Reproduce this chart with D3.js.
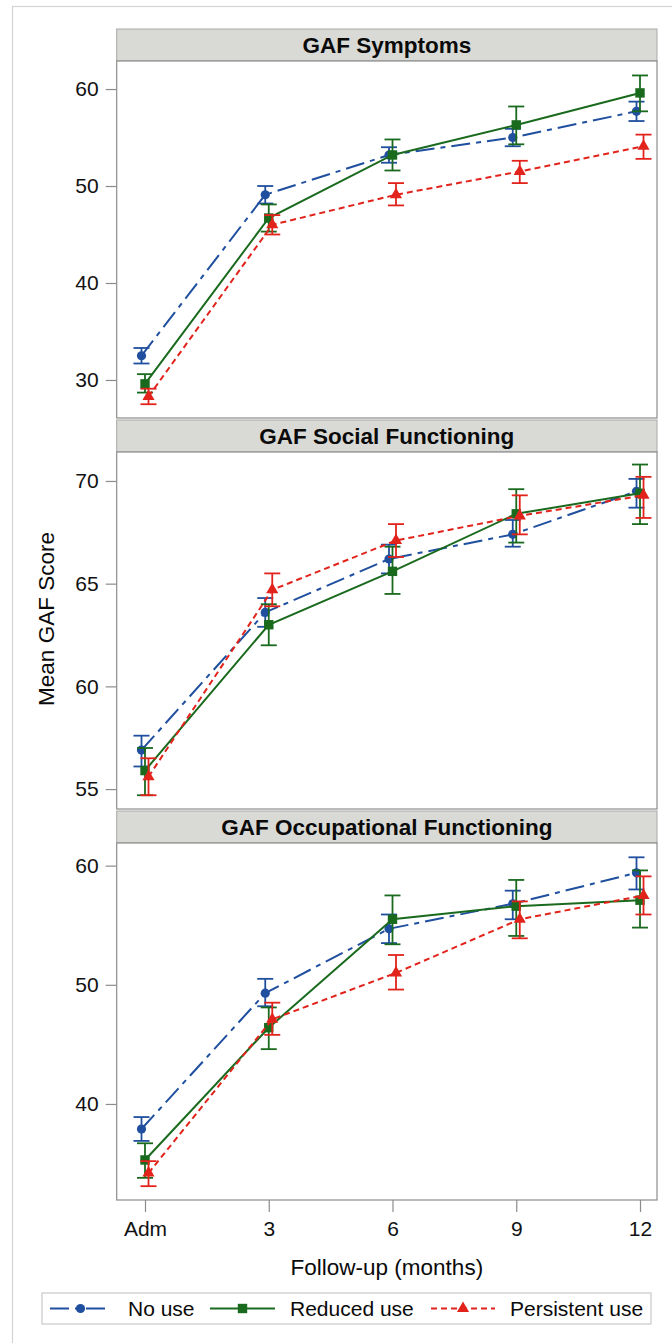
<!DOCTYPE html>
<html>
<head>
<meta charset="utf-8">
<script src="https://cdn.jsdelivr.net/npm/d3@7"></script>
<style>
  body { margin: 0; background: #fff; }
  svg { display: block; }
  text { font-family: "Liberation Sans", Arial, Helvetica, sans-serif; }
</style>
</head>
<body>
<svg id="chart" width="672" height="1343"></svg>
<script>
// Follow-up time points (months) and their axis labels
const months = [0, 3, 6, 9, 12];
const monthLabels = ["Adm", "3", "6", "9", "12"];
const groups = ["No use", "Reduced use", "Persistent use"];
const panelTitles = ["GAF Symptoms", "GAF Social Functioning", "GAF Occupational Functioning"];

// Y-axis tick values per panel
const symptomsTicks = [30, 40, 50, 60];
const socialTicks = [55, 60, 65, 70];
const occupationalTicks = [40, 50, 60];

// GAF Symptoms: means and error-bar limits
const symptomsNoUseMean = [32.5, 49.1, 53.2, 55.0, 57.7];
const symptomsNoUseLow  = [31.7, 48.2, 52.4, 54.1, 56.7];
const symptomsNoUseHigh = [33.3, 50.0, 54.0, 55.9, 58.7];
const symptomsReducedMean = [29.6, 46.7, 53.2, 56.3, 59.6];
const symptomsReducedLow  = [28.7, 45.3, 51.6, 54.3, 57.7];
const symptomsReducedHigh = [30.6, 48.1, 54.8, 58.2, 61.4];
const symptomsPersistentMean = [28.3, 46.0, 49.1, 51.5, 54.1];
const symptomsPersistentLow  = [27.5, 45.0, 48.0, 50.3, 52.8];
const symptomsPersistentHigh = [29.1, 47.0, 50.3, 52.6, 55.3];

// GAF Social Functioning
const socialNoUseMean = [56.9, 63.6, 66.2, 67.4, 69.5];
const socialNoUseLow  = [56.1, 62.9, 65.5, 66.8, 68.7];
const socialNoUseHigh = [57.6, 64.3, 66.9, 68.1, 70.1];
const socialReducedMean = [55.9, 63.0, 65.6, 68.4, 69.4];
const socialReducedLow  = [54.7, 62.0, 64.5, 67.0, 67.9];
const socialReducedHigh = [57.0, 64.0, 66.8, 69.6, 70.8];
const socialPersistentMean = [55.6, 64.7, 67.1, 68.3, 69.3];
const socialPersistentLow  = [54.7, 63.9, 66.3, 67.4, 68.2];
const socialPersistentHigh = [56.5, 65.5, 67.9, 69.3, 70.2];

// GAF Occupational Functioning
const occupationalNoUseMean = [37.9, 49.3, 54.7, 56.8, 59.4];
const occupationalNoUseLow  = [36.9, 48.2, 53.5, 55.5, 58.0];
const occupationalNoUseHigh = [38.9, 50.5, 55.9, 57.9, 60.7];
const occupationalReducedMean = [35.3, 46.4, 55.5, 56.6, 57.1];
const occupationalReducedLow  = [33.8, 44.6, 53.4, 54.1, 54.8];
const occupationalReducedHigh = [36.7, 48.1, 57.5, 58.8, 59.6];
const occupationalPersistentMean = [34.2, 47.1, 51.0, 55.5, 57.5];
const occupationalPersistentLow  = [33.1, 45.8, 49.6, 53.9, 55.9];
const occupationalPersistentHigh = [35.2, 48.5, 52.5, 57.0, 59.1];

// ---- assemble panel tables ----
function series(mean, low, high) {
  return months.map((m, i) => ({ month: m, mean: mean[i], low: low[i], high: high[i] }));
}
const panels = [
  { title: panelTitles[0], ticks: symptomsTicks, domain: [26.08, 62.89],
    series: [series(symptomsNoUseMean, symptomsNoUseLow, symptomsNoUseHigh),
             series(symptomsReducedMean, symptomsReducedLow, symptomsReducedHigh),
             series(symptomsPersistentMean, symptomsPersistentLow, symptomsPersistentHigh)] },
  { title: panelTitles[1], ticks: socialTicks, domain: [54.03, 71.41],
    series: [series(socialNoUseMean, socialNoUseLow, socialNoUseHigh),
             series(socialReducedMean, socialReducedLow, socialReducedHigh),
             series(socialPersistentMean, socialPersistentLow, socialPersistentHigh)] },
  { title: panelTitles[2], ticks: occupationalTicks, domain: [31.94, 61.9],
    series: [series(occupationalNoUseMean, occupationalNoUseLow, occupationalNoUseHigh),
             series(occupationalReducedMean, occupationalReducedLow, occupationalReducedHigh),
             series(occupationalPersistentMean, occupationalPersistentLow, occupationalPersistentHigh)] }
];

// ---- styling per group ----
const styles = [
  { color: "#1f4f9e", dash: "19,6,5,6", shape: "circle",   dodge: -0.085 },
  { color: "#1a6a1e", dash: null,       shape: "square",   dodge: 0 },
  { color: "#e2231c", dash: "6,4",      shape: "triangle", dodge: 0.085 }
];

// ---- layout ----
const plotLeft = 116.7, plotRight = 657;
const firstTop = 29, headerH = 32, plotH = 357, panelStep = 391;

const svg = d3.select("#chart");
svg.append("rect").attr("width", 672).attr("height", 1343).attr("fill", "#fff");
// outer frame of the graphic
svg.append("rect").attr("x", 12.5).attr("y", 6.5).attr("width", 720).attr("height", 1400)
  .attr("fill", "none").attr("stroke", "#d4d4d4").attr("stroke-width", 1.2);

const x = d3.scaleLinear().domain([-0.686, 12.412]).range([plotLeft, plotRight]);

function drawMarker(g, shape, color, cx, cy) {
  if (shape === "circle") {
    g.append("circle").attr("cx", cx).attr("cy", cy).attr("r", 4.6).attr("fill", color);
  } else if (shape === "square") {
    g.append("rect").attr("x", cx - 4.7).attr("y", cy - 4.7).attr("width", 9.4).attr("height", 9.4).attr("fill", color);
  } else {
    g.append("path").attr("transform", `translate(${cx},${cy})`)
      .attr("d", d3.symbol(d3.symbolTriangle, 64)()).attr("fill", color);
  }
}

panels.forEach((p, k) => {
  const top = firstTop + k * panelStep;
  const pTop = top + headerH, pBottom = pTop + plotH;
  const y = d3.scaleLinear().domain(p.domain).range([pBottom, pTop]);

  // header strip
  svg.append("rect").attr("x", plotLeft).attr("y", top).attr("width", plotRight - plotLeft).attr("height", headerH)
    .attr("fill", "#d9dad6").attr("stroke", "#a9aaa7").attr("stroke-width", 1);
  svg.append("text").attr("x", (plotLeft + plotRight) / 2).attr("y", top + 24)
    .attr("text-anchor", "middle").attr("font-size", 22.5).attr("font-weight", "bold").attr("fill", "#0a0a0a")
    .text(p.title);

  // plot frame
  svg.append("rect").attr("x", plotLeft).attr("y", pTop).attr("width", plotRight - plotLeft).attr("height", plotH)
    .attr("fill", "#fff").attr("stroke", "#8c8c8c").attr("stroke-width", 1.2);

  // y axis
  const yAxis = d3.axisLeft(y).tickValues(p.ticks).tickSize(11).tickPadding(7).tickFormat(d3.format("d"));
  const ga = svg.append("g").attr("transform", `translate(${plotLeft},0)`).call(yAxis);
  ga.select(".domain").remove();
  ga.selectAll(".tick line").attr("stroke", "#8c8c8c").attr("stroke-width", 1.2);
  ga.selectAll(".tick text").attr("font-size", 21).attr("fill", "#111")
    .attr("font-family", '"Liberation Sans", Arial, sans-serif');

  const layer = svg.append("g");
  const line = d3.line().x(d => x(d.month + d.dodge)).y(d => y(d.mean));

  p.series.forEach((s, gi) => {
    const st = styles[gi];
    const pts = s.map(d => Object.assign({}, d, { dodge: st.dodge }));
    const g = layer.append("g");
    g.append("path").datum(pts).attr("d", line).attr("fill", "none")
      .attr("stroke", st.color).attr("stroke-width", 2)
      .attr("stroke-dasharray", st.dash);
    pts.forEach(d => {
      const cx = x(d.month + d.dodge);
      g.append("line").attr("x1", cx).attr("x2", cx).attr("y1", y(d.low)).attr("y2", y(d.high))
        .attr("stroke", st.color).attr("stroke-width", 1.8);
      [d.low, d.high].forEach(v => {
        g.append("line").attr("x1", cx - 8).attr("x2", cx + 8).attr("y1", y(v)).attr("y2", y(v))
          .attr("stroke", st.color).attr("stroke-width", 1.8);
      });
      drawMarker(g, st.shape, st.color, cx, y(d.mean));
    });
  });

  // x axis on the bottom panel only
  if (k === panels.length - 1) {
    const xAxis = d3.axisBottom(x).tickValues(months).tickSize(12).tickPadding(9)
      .tickFormat((d, i) => monthLabels[i]);
    const gx = svg.append("g").attr("transform", `translate(0,${pBottom})`).call(xAxis);
    gx.select(".domain").remove();
    gx.selectAll(".tick line").attr("stroke", "#8c8c8c").attr("stroke-width", 1.2);
    gx.selectAll(".tick text").attr("font-size", 21).attr("fill", "#111")
      .attr("font-family", '"Liberation Sans", Arial, sans-serif');
  }
});

// axis titles
svg.append("text").attr("x", (plotLeft + plotRight) / 2).attr("y", 1275)
  .attr("text-anchor", "middle").attr("font-size", 22.5).attr("fill", "#0a0a0a").text("Follow-up (months)");
svg.append("text").attr("transform", "translate(54,619) rotate(-90)")
  .attr("text-anchor", "middle").attr("font-size", 22.5).attr("fill", "#0a0a0a").text("Mean GAF Score");

// legend
const legend = svg.append("g");
legend.append("rect").attr("x", 42).attr("y", 1293).attr("width", 609).attr("height", 31)
  .attr("fill", "#fff").attr("stroke", "#c8c8c8").attr("stroke-width", 1.2);
const legendItems = [
  { x0: 50, x1: 111, text: 128 },
  { x0: 210, x1: 275, text: 290 },
  { x0: 431, x1: 495, text: 510 }
];
groups.forEach((name, i) => {
  const st = styles[i], li = legendItems[i];
  const cy = 1308.5;
  legend.append("line").attr("x1", li.x0).attr("x2", li.x1).attr("y1", cy).attr("y2", cy)
    .attr("stroke", st.color).attr("stroke-width", 2).attr("stroke-dasharray", st.dash);
  drawMarker(legend, st.shape, st.color, (li.x0 + li.x1) / 2, cy);
  legend.append("text").attr("x", li.text).attr("y", 1316).attr("font-size", 21).attr("fill", "#0a0a0a").text(name);
});
</script>
</body>
</html>
